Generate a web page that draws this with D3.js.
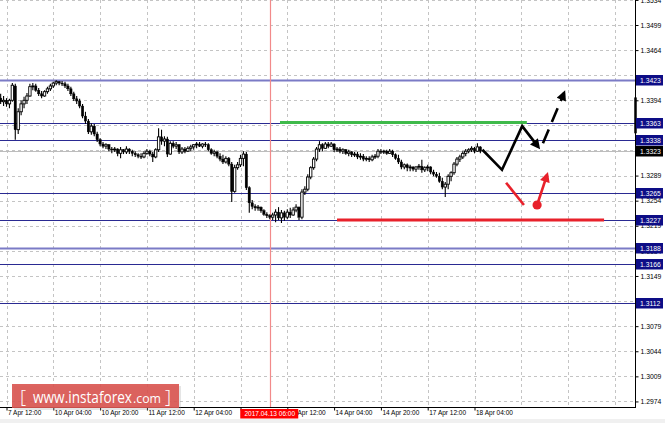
<!DOCTYPE html>
<html><head><meta charset="utf-8">
<script src="https://cdn.jsdelivr.net/npm/d3@7"></script>
<style>body{margin:0;background:#fff;overflow:hidden}svg{display:block}</style>
</head><body><svg id="c" width="665" height="423"></svg>
<script>
// ---- data (H1 chart) ----
const openP = [1.3397,1.3392,1.3394,1.3389,1.3394,1.3414,1.3353,1.3378,1.3389,1.3394,
1.3400,1.3413,1.3414,1.3408,1.3403,1.3400,1.3406,1.3410,1.3414,1.3418,
1.3420,1.3418,1.3417,1.3414,1.3410,1.3403,1.3396,1.3393,1.3386,1.3372,
1.3365,1.3350,1.3358,1.3347,1.3339,1.3333,1.3330,1.3332,1.3326,1.3325,
1.3326,1.3320,1.3325,1.3322,1.3326,1.3323,1.3320,1.3318,1.3316,1.3315,
1.3320,1.3323,1.3319,1.3315,1.3325,1.3343,1.3337,1.3340,1.3319,1.3334,
1.3330,1.3332,1.3322,1.3326,1.3323,1.3327,1.3329,1.3332,1.3333,1.3330,
1.3333,1.3332,1.3325,1.3320,1.3322,1.3316,1.3312,1.3308,1.3313,1.3305,
1.3267,1.3300,1.3304,1.3313,1.3319,1.3272,1.3251,1.3246,1.3244,1.3245,
1.3240,1.3235,1.3233,1.3231,1.3234,1.3238,1.3230,1.3237,1.3231,1.3238,
1.3234,1.3241,1.3245,1.3231,1.3266,1.3270,1.3287,1.3300,1.3312,1.3326,
1.3332,1.3327,1.3333,1.3330,1.3333,1.3325,1.3326,1.3323,1.3325,1.3320,
1.3322,1.3318,1.3319,1.3315,1.3316,1.3312,1.3313,1.3311,1.3315,1.3316,
1.3323,1.3322,1.3323,1.3320,1.3323,1.3318,1.3313,1.3308,1.3301,1.3304,
1.3300,1.3301,1.3298,1.3301,1.3302,1.3297,1.3300,1.3301,1.3294,1.3291,
1.3288,1.3281,1.3273,1.3277,1.3288,1.3293,1.3305,1.3312,1.3315,1.3320,
1.3323,1.3325,1.3327,1.3323,1.3329];
const highP = [1.3403,1.3400,1.3397,1.3396,1.3418,1.3417,1.3383,1.3394,1.3399,1.3404,
1.3417,1.3418,1.3417,1.3411,1.3407,1.3408,1.3413,1.3417,1.3420,1.3422,
1.3421,1.3421,1.3420,1.3417,1.3413,1.3406,1.3400,1.3396,1.3389,1.3378,
1.3368,1.3362,1.3361,1.3350,1.3341,1.3336,1.3334,1.3333,1.3329,1.3329,
1.3327,1.3329,1.3326,1.3330,1.3327,1.3325,1.3323,1.3320,1.3320,1.3323,
1.3326,1.3325,1.3322,1.3327,1.3355,1.3353,1.3344,1.3343,1.3337,1.3337,
1.3336,1.3333,1.3329,1.3329,1.3330,1.3332,1.3333,1.3336,1.3336,1.3334,
1.3336,1.3334,1.3327,1.3325,1.3323,1.3320,1.3318,1.3316,1.3315,1.3308,
1.3304,1.3308,1.3318,1.3323,1.3322,1.3274,1.3255,1.3249,1.3248,1.3246,
1.3242,1.3238,1.3235,1.3237,1.3242,1.3245,1.3241,1.3240,1.3242,1.3244,
1.3245,1.3249,1.3246,1.3270,1.3274,1.3291,1.3302,1.3315,1.3329,1.3337,
1.3334,1.3336,1.3336,1.3336,1.3334,1.3329,1.3329,1.3327,1.3326,1.3325,
1.3323,1.3322,1.3322,1.3320,1.3319,1.3316,1.3316,1.3318,1.3319,1.3326,
1.3326,1.3325,1.3325,1.3326,1.3325,1.3320,1.3318,1.3311,1.3306,1.3306,
1.3304,1.3302,1.3302,1.3305,1.3311,1.3302,1.3304,1.3302,1.3297,1.3294,
1.3293,1.3286,1.3280,1.3291,1.3295,1.3308,1.3315,1.3318,1.3323,1.3326,
1.3327,1.3330,1.3329,1.3334,1.3330];
const lowP = [1.3389,1.3386,1.3385,1.3383,1.3392,1.3339,1.3347,1.3373,1.3383,1.3389,
1.3399,1.3408,1.3406,1.3400,1.3397,1.3399,1.3403,1.3407,1.3411,1.3415,
1.3415,1.3414,1.3411,1.3407,1.3400,1.3393,1.3389,1.3383,1.3369,1.3361,
1.3347,1.3346,1.3344,1.3336,1.3330,1.3327,1.3326,1.3323,1.3320,1.3322,
1.3316,1.3313,1.3319,1.3319,1.3319,1.3316,1.3315,1.3313,1.3312,1.3313,
1.3318,1.3316,1.3308,1.3313,1.3322,1.3332,1.3330,1.3315,1.3318,1.3327,
1.3326,1.3319,1.3319,1.3320,1.3322,1.3323,1.3325,1.3327,1.3329,1.3327,
1.3329,1.3323,1.3318,1.3316,1.3313,1.3309,1.3305,1.3306,1.3302,1.3252,
1.3265,1.3297,1.3301,1.3302,1.3269,1.3237,1.3242,1.3240,1.3240,1.3237,
1.3233,1.3230,1.3228,1.3227,1.3224,1.3227,1.3223,1.3226,1.3228,1.3230,
1.3233,1.3238,1.3227,1.3228,1.3262,1.3267,1.3284,1.3297,1.3309,1.3322,
1.3323,1.3326,1.3327,1.3329,1.3322,1.3322,1.3320,1.3319,1.3318,1.3316,
1.3315,1.3315,1.3312,1.3311,1.3309,1.3309,1.3308,1.3309,1.3312,1.3313,
1.3319,1.3319,1.3318,1.3319,1.3315,1.3311,1.3305,1.3298,1.3298,1.3295,
1.3295,1.3295,1.3294,1.3297,1.3293,1.3294,1.3295,1.3291,1.3288,1.3286,
1.3279,1.3270,1.3259,1.3270,1.3281,1.3290,1.3302,1.3308,1.3312,1.3316,
1.3320,1.3322,1.3320,1.3322,1.3320];
const closeP = [1.3392,1.3394,1.3389,1.3394,1.3415,1.3353,1.3378,1.3389,1.3394,1.3400,
1.3413,1.3414,1.3408,1.3403,1.3400,1.3406,1.3410,1.3414,1.3418,1.3420,
1.3418,1.3417,1.3414,1.3410,1.3403,1.3396,1.3393,1.3386,1.3372,1.3365,
1.3350,1.3358,1.3347,1.3339,1.3333,1.3330,1.3332,1.3326,1.3325,1.3326,
1.3320,1.3325,1.3322,1.3326,1.3323,1.3320,1.3318,1.3316,1.3315,1.3320,
1.3323,1.3319,1.3315,1.3325,1.3343,1.3337,1.3340,1.3319,1.3334,1.3330,
1.3332,1.3322,1.3326,1.3323,1.3327,1.3329,1.3332,1.3333,1.3330,1.3333,
1.3332,1.3325,1.3320,1.3322,1.3316,1.3312,1.3308,1.3313,1.3305,1.3267,
1.3300,1.3304,1.3313,1.3319,1.3272,1.3251,1.3246,1.3244,1.3245,1.3240,
1.3235,1.3233,1.3231,1.3234,1.3238,1.3230,1.3237,1.3231,1.3238,1.3234,
1.3241,1.3245,1.3231,1.3266,1.3270,1.3287,1.3300,1.3312,1.3326,1.3332,
1.3327,1.3333,1.3330,1.3333,1.3325,1.3326,1.3323,1.3325,1.3320,1.3322,
1.3318,1.3319,1.3315,1.3316,1.3312,1.3313,1.3311,1.3315,1.3316,1.3323,
1.3322,1.3323,1.3320,1.3323,1.3318,1.3313,1.3308,1.3301,1.3304,1.3300,
1.3301,1.3298,1.3301,1.3302,1.3297,1.3300,1.3301,1.3294,1.3291,1.3288,
1.3281,1.3273,1.3277,1.3288,1.3293,1.3305,1.3312,1.3315,1.3320,1.3323,
1.3325,1.3327,1.3323,1.3329,1.3323];

// time axis: bar index of each grid line, and the labels of those that carry one
const timeTickIndex = [2,18,34,50,66,82,98,114,130,146,162,178,194,210];
const timeTickLabels = ["7 Apr 12:00","10 Apr 04:00","10 Apr 20:00","11 Apr 12:00","12 Apr 04:00",
  "","13 Apr 12:00","14 Apr 04:00","14 Apr 20:00","17 Apr 12:00","18 Apr 04:00"];
// price axis ticks (those hidden behind level labels in the picture are not labelled)
const priceTicks = [1.2974,1.3009,1.3044,1.3079,1.3114,1.3149,1.3184,1.3219,1.3254,1.3289,
  1.3324,1.3359,1.3394,1.3429,1.3464,1.3499,1.3534];
const hiddenPriceTicks = [1.3114,1.3324,1.3429];
// horizontal support / resistance levels
const levelPrices = [1.3423,1.3363,1.3338,1.3265,1.3227,1.3188,1.3166,1.3112];
const lightLevels = [1.3423,1.3188];
const currentPrice = 1.3323;
// vertical marker
const markerIndex = 92;
const markerLabel = "2017.04.13 06:00";
// drawn forecast annotations (bar index, price)
const greenLineIdx = [95.5,179.9], greenLinePrice = 1.3363;
const redLineIdx = [115,206.3], redLinePrice = 1.3227;
const blackPathIdx = [164.7,171.4,178.3,183.8];
const blackPathPrice = [1.3325,1.3297,1.3358,1.3329];
const dashArrowIdx = [185.4,192.6];
const dashArrowPrice = [1.3334,1.3404];
const redSegIdx = [172.8,178.9];
const redSegPrice = [1.3279,1.3248];
const redArrowIdx = [183.4,186.8];
const redArrowPrice = [1.3248,1.3290];

// ---- drawing ----
const W = 665, H = 423, plotR = 635, plotB = 407;
const FONT = "'Liberation Sans', Arial, sans-serif";
const svg = d3.select("#c").attr("font-family", FONT);

const x = d3.scaleLinear().domain([2,162]).range([6.5,474.5]);
const y = d3.scaleLinear().domain([1.3112,1.3423]).range([302.5,79.5]);

svg.append("rect").attr("width",W).attr("height",H).attr("fill","#fff");
svg.append("rect").attr("x",0).attr("y",419).attr("width",W).attr("height",H-419).attr("fill","#f0f0f0");

const defs = svg.append("defs");
defs.append("clipPath").attr("id","plot").append("rect").attr("x",0).attr("y",0).attr("width",plotR).attr("height",plotB);
function marker(id, color, w, h){
  defs.append("marker").attr("id",id).attr("viewBox","0 0 10 10")
    .attr("refX",7).attr("refY",5).attr("markerWidth",w).attr("markerHeight",h)
    .attr("markerUnits","userSpaceOnUse").attr("orient","auto")
    .append("path").attr("d","M0,0 L10,5 L0,10 z").attr("fill",color);
}
marker("ahB","#000",12,10);
marker("ahR","#e8212b",11,10);

const plot = svg.append("g").attr("clip-path","url(#plot)");

// grid
const grid = plot.append("g").attr("stroke","#c4c4c4").attr("stroke-width",1).attr("stroke-dasharray","3,3");
grid.selectAll("line.h").data(priceTicks).join("line").attr("class","h")
  .attr("x1",0).attr("x2",plotR)
  .attr("y1",d=>Math.round(y(d))+0.5).attr("y2",d=>Math.round(y(d))+0.5);
grid.selectAll("line.v").data(timeTickIndex).join("line").attr("class","v")
  .attr("y1",0).attr("y2",plotB)
  .attr("x1",d=>Math.round(x(d))+0.5).attr("x2",d=>Math.round(x(d))+0.5);

// current price line
plot.append("line").attr("x1",0).attr("x2",plotR)
  .attr("y1",Math.round(y(currentPrice))+0.5).attr("y2",Math.round(y(currentPrice))+0.5)
  .attr("stroke","#bdbdbd").attr("stroke-width",1);

// level lines
plot.selectAll("line.lvl").data(levelPrices).join("line").attr("class","lvl")
  .attr("x1",0).attr("x2",plotR)
  .attr("y1",d=>Math.round(y(d))+0.5).attr("y2",d=>Math.round(y(d))+0.5)
  .attr("stroke",d=>lightLevels.includes(d)?"#7b7bc6":"#2a2a92")
  .attr("stroke-width",d=>lightLevels.includes(d)?2:1.1);

// vertical marker line
plot.append("line").attr("x1",Math.round(x(markerIndex))+0.5).attr("x2",Math.round(x(markerIndex))+0.5)
  .attr("y1",0).attr("y2",plotB).attr("stroke","#f28a8a").attr("stroke-width",1.2);

// candles
const idx = closeP.map((c,i)=>i);
const cg = plot.append("g");
cg.selectAll("line.w").data(idx).join("line").attr("class","w")
  .attr("x1",i=>x(i)).attr("x2",i=>x(i))
  .attr("y1",i=>y(highP[i])).attr("y2",i=>y(lowP[i]))
  .attr("stroke","#000").attr("stroke-width",1.1);
cg.selectAll("rect.b").data(idx).join("rect").attr("class","b")
  .attr("x",i=>x(i)-1.2).attr("width",2.4)
  .attr("y",i=>y(Math.max(openP[i],closeP[i])))
  .attr("height",i=>Math.max(0.9, Math.abs(y(openP[i])-y(closeP[i]))))
  .attr("fill",i=>closeP[i]>=openP[i]?"#fff":"#000")
  .attr("stroke","#000").attr("stroke-width",i=>closeP[i]>=openP[i]?0.9:0.4);

// annotations
plot.append("line").attr("x1",x(greenLineIdx[0])).attr("x2",x(greenLineIdx[1]))
  .attr("y1",y(greenLinePrice)).attr("y2",y(greenLinePrice))
  .attr("stroke","#3fba4b").attr("stroke-width",3);
plot.append("line").attr("x1",x(redLineIdx[0])).attr("x2",x(redLineIdx[1]))
  .attr("y1",y(redLinePrice)).attr("y2",y(redLinePrice))
  .attr("stroke","#e8212b").attr("stroke-width",3);

const ln = d3.line().x(d=>x(d[0])).y(d=>y(d[1]));
plot.append("path").attr("d",ln(blackPathIdx.map((v,i)=>[v,blackPathPrice[i]])))
  .attr("fill","none").attr("stroke","#000").attr("stroke-width",2.6)
  .attr("stroke-linejoin","miter").attr("marker-end","url(#ahB)");
plot.append("path").attr("d",ln(dashArrowIdx.map((v,i)=>[v,dashArrowPrice[i]])))
  .attr("fill","none").attr("stroke","#000").attr("stroke-width",2.6)
  .attr("stroke-dasharray","15,8").attr("marker-end","url(#ahB)");
plot.append("path").attr("d",ln(redSegIdx.map((v,i)=>[v,redSegPrice[i]])))
  .attr("fill","none").attr("stroke","#e8212b").attr("stroke-width",2.6);
plot.append("path").attr("d",ln(redArrowIdx.map((v,i)=>[v,redArrowPrice[i]])))
  .attr("fill","none").attr("stroke","#e8212b").attr("stroke-width",2.6)
  .attr("marker-end","url(#ahR)");
plot.append("circle").attr("cx",x(redArrowIdx[0])).attr("cy",y(redArrowPrice[0]))
  .attr("r",4.6).attr("fill","#e8212b");

// right axis
const gy = svg.append("g").attr("transform",`translate(${plotR+0.5},0)`)
  .call(d3.axisRight(y).tickValues(priceTicks)
    .tickFormat(d=>hiddenPriceTicks.includes(d)?"":d3.format(".4f")(d)).tickSize(3).tickPadding(2));
gy.select(".domain").remove();
gy.selectAll("line").attr("stroke","#000");
gy.selectAll("text").attr("font-size",6.8).attr("font-family",FONT).attr("fill","#000");

// bottom axis
const gx = svg.append("g").attr("transform",`translate(0,${plotB+0.5})`)
  .call(d3.axisBottom(x).tickValues(timeTickIndex.slice(0,timeTickLabels.length))
    .tickFormat((d,i)=>timeTickLabels[i]).tickSize(3).tickPadding(1));
gx.select(".domain").remove();
gx.selectAll("line").attr("stroke","#000");
gx.selectAll("text").attr("font-size",6.5).attr("font-family",FONT).attr("fill","#000")
  .attr("text-anchor","start").attr("x",1).attr("y",3);

// frame
svg.append("line").attr("x1",plotR+0.5).attr("x2",plotR+0.5).attr("y1",0).attr("y2",plotB+1).attr("stroke","#000");
svg.append("line").attr("x1",0).attr("x2",plotR+1).attr("y1",plotB+0.5).attr("y2",plotB+0.5).attr("stroke","#000");
svg.append("line").attr("x1",plotR+0.5).attr("x2",plotR+0.5).attr("y1",y(1.3398)).attr("y2",y(1.3348))
  .attr("stroke","#000").attr("stroke-width",2.5);

// price labels for levels
const allLabels = levelPrices.map(p=>({p, bg:"#0d0d86"})).concat([{p:currentPrice,bg:"#000"}]);
const lg = svg.append("g");
lg.selectAll("rect").data(allLabels).join("rect")
  .attr("x",plotR+1).attr("width",27).attr("y",d=>Math.round(y(d.p))-5).attr("height",10.5)
  .attr("fill",d=>d.bg);
lg.selectAll("text").data(allLabels).join("text")
  .attr("x",plotR+5).attr("y",d=>Math.round(y(d.p))+0.5).attr("dy","0.35em")
  .attr("font-size",6.8).attr("fill","#fff").text(d=>d3.format(".4f")(d.p));

// time marker label
const mx = x(markerIndex);
svg.append("rect").attr("x",mx-29.5).attr("y",409).attr("width",58).attr("height",9.5).attr("fill","#ff0000");
svg.append("text").attr("x",mx).attr("y",416).attr("text-anchor","middle")
  .attr("font-size",6.5).attr("fill","#fff").text(markerLabel);

// watermark
const wm = svg.append("g");
wm.append("rect").attr("x",14).attr("y",386).attr("width",167).attr("height",24).attr("fill","#999").attr("opacity",0.25);
wm.append("rect").attr("x",12).attr("y",384).attr("width",167).attr("height",24).attr("fill","#d9534f").attr("opacity",0.9);
const wf = "'Open Sans', 'Liberation Sans', sans-serif";
wm.append("text").attr("x",20).attr("y",403).attr("font-family",wf).attr("font-size",19).attr("font-weight",300).attr("fill","#fff").text("[");
wm.append("text").attr("x",33).attr("y",402.5).attr("font-family",wf).attr("font-size",16.5).attr("fill","#fff")
  .attr("textLength",99).attr("lengthAdjust","spacingAndGlyphs").text("www.instaforex");
wm.append("text").attr("x",133).attr("y",402.5).attr("font-family",wf).attr("font-size",12.5).attr("fill","#fff")
  .attr("textLength",28).attr("lengthAdjust","spacingAndGlyphs").text(".com");
wm.append("text").attr("x",165).attr("y",403).attr("font-family",wf).attr("font-size",19).attr("font-weight",300).attr("fill","#fff").text("]");
</script></body></html>
